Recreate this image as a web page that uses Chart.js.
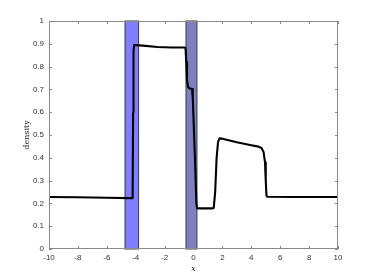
<!DOCTYPE html>
<html>
<head>
<meta charset="utf-8">
<script src="https://cdn.jsdelivr.net/npm/chart.js@4/dist/chart.umd.min.js"></script>
<style>
  html, body { margin: 0; padding: 0; background: #fff; }
  #wrap { width: 374px; height: 280px; }
</style>
</head>
<body>
<div id="wrap"><canvas id="c"></canvas></div>
<script>
// density profile
const densX = [-10, -8, -6, -4.5, -4.25, -4.21, -4.18, -4.15, -4.1, -3.5, -2.5, -1.5, -0.6, -0.55,
  -0.5, -0.45, -0.38, -0.3, -0.1, -0.05, 0.1, 0.2, 0.25, 0.5, 1.3, 1.4, 1.5, 1.6, 1.7, 1.8,
  2, 3, 4, 4.5, 4.7, 4.85, 4.95, 5.0, 5.05, 5.1, 7, 10];
const densY = [0.228, 0.227, 0.225, 0.223, 0.223, 0.26, 0.6, 0.87, 0.895, 0.892, 0.886, 0.884, 0.884, 0.88,
  0.82, 0.74, 0.712, 0.705, 0.702, 0.66, 0.4, 0.2, 0.178, 0.178, 0.178, 0.18, 0.25, 0.4, 0.47, 0.485,
  0.484, 0.468, 0.455, 0.449, 0.443, 0.425, 0.38, 0.3, 0.235, 0.229, 0.228, 0.228];

// shaded regions (x from / to)
const bandFrom = [-4.74, -0.52];
const bandTo = [-3.8, 0.24];
const bandFill = ["#7f7fff", "#7f7fbf"];

const points = densX.map((x, i) => ({ x, y: densY[i] }));

const bandsPlugin = {
  id: "bands",
  beforeDatasetsDraw(chart) {
    const { ctx, chartArea: a, scales: { x } } = chart;
    ctx.save();
    bandFrom.forEach((lo, i) => {
      const x0 = x.getPixelForValue(lo);
      const x1 = x.getPixelForValue(bandTo[i]);
      ctx.fillStyle = bandFill[i];
      ctx.fillRect(x0, a.top, x1 - x0, a.bottom - a.top);
      ctx.strokeStyle = "#3a3a50";
      ctx.lineWidth = 1;
      ctx.strokeRect(x0, a.top, x1 - x0, a.bottom - a.top);
    });
    ctx.restore();
  }
};

// matlab style box with ticks pointing inward
const boxPlugin = {
  id: "box",
  afterDraw(chart) {
    const { ctx, chartArea: a, scales: { x, y } } = chart;
    const len = 3;
    ctx.save();
    ctx.strokeStyle = "#8a8a8a";
    ctx.lineWidth = 1;
    ctx.strokeRect(a.left + 0.5, a.top + 0.5, a.right - a.left - 1, a.bottom - a.top - 1);
    ctx.beginPath();
    x.ticks.forEach(t => {
      const px = Math.round(x.getPixelForValue(t.value)) + 0.5;
      ctx.moveTo(px, a.bottom); ctx.lineTo(px, a.bottom - len);
      ctx.moveTo(px, a.top); ctx.lineTo(px, a.top + len);
    });
    y.ticks.forEach(t => {
      const py = Math.round(y.getPixelForValue(t.value)) + 0.5;
      ctx.moveTo(a.left, py); ctx.lineTo(a.left + len, py);
      ctx.moveTo(a.right, py); ctx.lineTo(a.right - len, py);
    });
    ctx.stroke();
    ctx.restore();
  }
};

new Chart(document.getElementById("c"), {
  type: "scatter",
  data: {
    datasets: [{
      data: points,
      showLine: true,
      borderColor: "#000",
      borderWidth: 2.1,
      borderJoinStyle: "round",
      borderCapStyle: "round",
      pointRadius: 0,
      tension: 0,
    }],
  },
  options: {
    responsive: true,
    maintainAspectRatio: false,
    animation: false,
    layout: { padding: { left: 0, right: 36, top: 21, bottom: 0 } },
    plugins: { legend: { display: false }, tooltip: { enabled: false } },
    scales: {
      x: {
        type: "linear",
        min: -10, max: 10,
        afterFit: s => { s.height = 31; },
        grid: { display: false, drawTicks: false },
        border: { display: false },
        ticks: { stepSize: 2, padding: 4, color: "#333", font: { family: "Liberation Sans", size: 8 }, maxRotation: 0 },
        title: {
          display: true, text: "x", color: "#222",
          font: { family: "DejaVu Serif", style: "italic", size: 8 },
          padding: { top: 0, bottom: 6 },
        },
      },
      y: {
        min: 0, max: 1,
        afterFit: s => { s.width = 49; },
        grid: { display: false, drawTicks: false },
        border: { display: false },
        ticks: {
          stepSize: 0.1, padding: 5, color: "#333", font: { family: "Liberation Sans", size: 8 },
          callback: v => String(Number(v.toFixed(1))),
        },
        title: {
          display: true, text: "density", color: "#222",
          font: { family: "DejaVu Serif", size: 8 },
          padding: { top: 22, bottom: 0 },
        },
      },
    },
  },
  plugins: [bandsPlugin, boxPlugin],
});
</script>
</body>
</html>
